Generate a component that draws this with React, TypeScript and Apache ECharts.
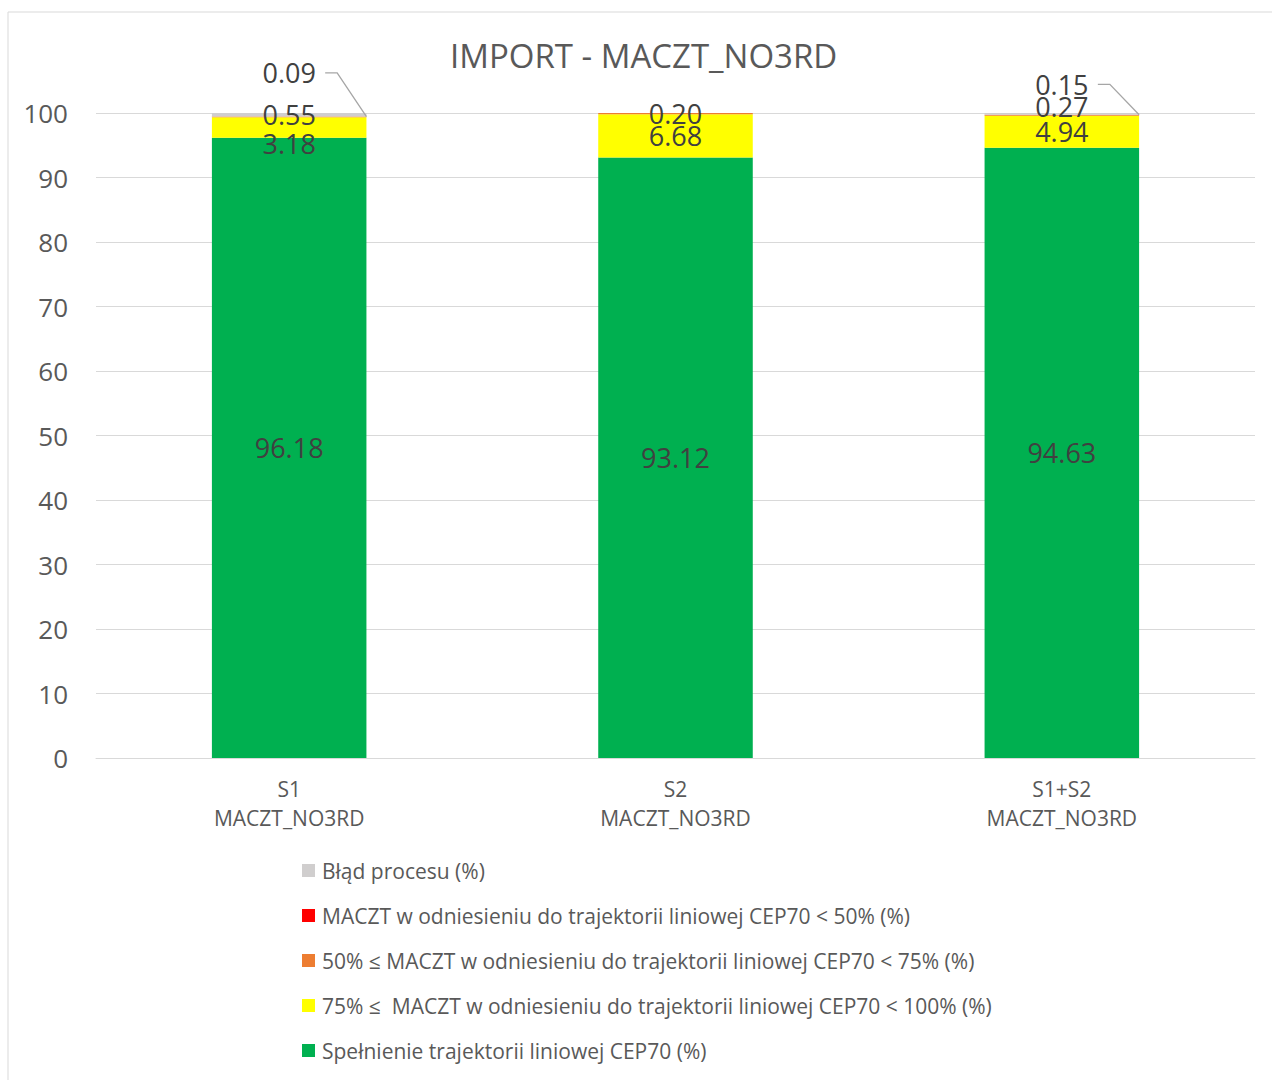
import React, { useEffect, useRef } from "react";
import * as echarts from "echarts";

const categories = ["S1\nMACZT_NO3RD", "S2\nMACZT_NO3RD", "S1+S2\nMACZT_NO3RD"];
const seriesNames = [
  "Spełnienie trajektorii liniowej CEP70 (%)",
  "75% ≤  MACZT w odniesieniu do trajektorii liniowej CEP70 < 100% (%)",
  "50% ≤ MACZT w odniesieniu do trajektorii liniowej CEP70 < 75% (%)",
  "MACZT w odniesieniu do trajektorii liniowej CEP70 < 50% (%)",
  "Błąd procesu (%)",
];
const greenValues = [96.18, 93.12, 94.63];
const yellowValues = [3.18, 6.68, 4.94];
const orangeValues = [0.09, 0.2, 0.15];
const redValues = [0, 0, 0];
const greyValues = [0.55, 0, 0.27];
const seriesColors = ["#00B050", "#FFFF00", "#ED7D31", "#FF0000", "#D0CECE"];
const yTicks = { min: 0, max: 100, interval: 10 };

const FONT = "'Open Sans', sans-serif";

export default function App() {
  const ref = useRef<HTMLDivElement>(null);
  useEffect(() => {
    document.body.style.margin = "0";
    const chart = echarts.init(ref.current!, undefined, { renderer: "svg" });
    const fmt = (p: any) => (p.value > 0 ? Number(p.value).toFixed(2) : "");
    const labelBase = {
      show: true,
      position: "inside",
      color: "#404040",
      fontSize: 27,
      fontFamily: FONT,
      formatter: fmt,
    };
    const allValues = [greenValues, yellowValues, orangeValues, redValues, greyValues];
    // per-point label offsets (callouts moved as in the reference)
    const offsets: Record<string, [number, number]> = {
      "1-0": [0, 16],
      "2-0": [0, -44],
      "2-2": [0, -31],
      "4-2": [0, -7],
    };
    const series = allValues.map((vals, si) => ({
      name: seriesNames[si],
      type: "bar",
      stack: "total",
      barWidth: "40%",
      itemStyle: { color: seriesColors[si] },
      label: { ...labelBase, show: si !== 3 },
      data: vals.map((v, ci) => {
        const off = offsets[`${si}-${ci}`];
        return off ? { value: v, label: { offset: off } } : { value: v };
      }),
    }));
    const option: any = {
      animation: false,
      backgroundColor: "#ffffff",
      title: {
        text: "IMPORT - MACZT_NO3RD",
        left: 450,
        top: 39,
        padding: 0,
        textStyle: { color: "#595959", fontSize: 33, fontWeight: "normal", fontFamily: FONT },
      },
      grid: { left: 96, right: 17, top: 113, bottom: 322, containLabel: false },
      xAxis: {
        type: "category",
        data: categories,
        axisLine: { lineStyle: { color: "#D9D9D9", width: 1 } },
        axisTick: { show: false },
        axisLabel: { color: "#595959", fontSize: 21, fontFamily: FONT, lineHeight: 29, margin: 16 },
      },
      yAxis: {
        type: "value",
        min: yTicks.min,
        max: yTicks.max,
        interval: yTicks.interval,
        axisLine: { show: false },
        axisTick: { show: false },
        splitLine: { lineStyle: { color: "#D9D9D9", width: 1 } },
        axisLabel: { color: "#595959", fontSize: 26, fontFamily: FONT, margin: 28 },
      },
      legend: {
        orient: "vertical",
        left: 302,
        top: 860,
        padding: 0,
        itemWidth: 13,
        itemHeight: 13,
        itemGap: 24,
        icon: "rect",
        data: [seriesNames[4], seriesNames[3], seriesNames[2], seriesNames[1], seriesNames[0]],
        textStyle: { color: "#595959", fontSize: 21, fontFamily: FONT, lineHeight: 19, padding: [0, 0, 0, 2] },
      },
      series,
      graphic: [
        {
          type: "rect",
          shape: { x: 8, y: 12, width: 1300, height: 1100 },
          style: { fill: "none", stroke: "#D9D9D9", lineWidth: 1 },
          silent: true,
          z: -1,
        },
      ],
    };
    chart.setOption(option);

    // leader lines for moved labels, computed from the chart's scales
    const p0 = chart.convertToPixel({ gridIndex: 0 }, [0, 0]) as number[];
    const p1 = chart.convertToPixel({ gridIndex: 0 }, [1, 0]) as number[];
    const band = p1[0] - p0[0];
    const halfBar = (band * 0.4) / 2;
    const leader = (ci: number, offY: number) => {
      const base = greenValues[ci] + yellowValues[ci];
      const mid = base + orangeValues[ci] / 2;
      const top = base + orangeValues[ci];
      const pm = chart.convertToPixel({ gridIndex: 0 }, [ci, mid]) as number[];
      const pt = chart.convertToPixel({ gridIndex: 0 }, [ci, top]) as number[];
      const ly = pm[1] + offY;
      return {
        type: "polyline",
        shape: {
          points: [
            [pm[0] + 36, ly],
            [pm[0] + 48, ly],
            [pm[0] + halfBar, pt[1]],
          ],
        },
        style: { stroke: "#A6A6A6", lineWidth: 1.3, fill: "none" },
        silent: true,
        z: 10,
      };
    };
    chart.setOption({
      graphic: [
        option.graphic[0],
        leader(0, offsets["2-0"][1]),
        leader(2, offsets["2-2"][1]),
      ],
    });
    return () => chart.dispose();
  }, []);
  return <div ref={ref} style={{ width: 1272, height: 1080 }} />;
}
